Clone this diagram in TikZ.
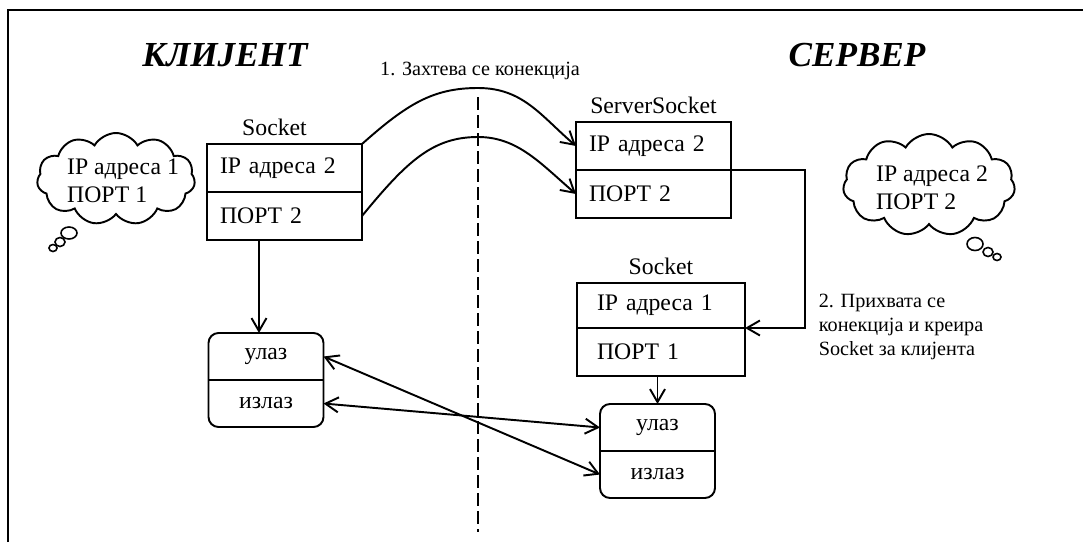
\documentclass[tikz,border=0pt]{standalone}
\usepackage{fontspec}
\setmainfont{Liberation Serif}
\usetikzlibrary{arrows.meta,positioning,calc,shapes.symbols}

\begin{document}
\begin{tikzpicture}[
  x=0.2mm, y=-0.2mm,
  line width=1.1pt,
  font=\fontsize{13.5}{16}\selectfont,
  cel/.style ={draw, outer sep=0pt, minimum height=9.6mm, text width=#1, inner xsep=2.6mm, align=left},
  iob/.style ={draw, rounded corners=2mm, outer sep=0pt, minimum width=23mm, minimum height=18.8mm},
  cld/.style ={draw, cloud, cloud puffs=11, cloud puff arc=120, cloud ignores aspect, inner sep=0pt},
  ttl/.style ={font=\fontsize{20}{24}\selectfont\bfseries\itshape},
  ann/.style ={font=\fontsize{11.5}{13.8}\selectfont, align=left},
  ar/.style  ={-{Straight Barb[length=2.6mm, width=3mm]}},
  dar/.style ={{Straight Barb[length=2.6mm, width=3mm]}-{Straight Barb[length=2.6mm, width=3mm]}},
  bub/.style ={draw, line width=0.9pt}
]
\useasboundingbox (0,0) rectangle (1083,542);
\draw (8,542) -- (8,10) -- (1083,10);

% ---------- client ----------
\node[ttl] (cttl) at (225,55) {КЛИЈЕНТ};
\node[cel=25.8mm] (csip) at (284.5,168) {IP адреса 2};
\node[cel=25.8mm, below=0pt of csip] (csport) {ПОРТ 2};
\node[above=0.3mm of csip, xshift=-2mm] (cslab) {Socket};
\node[cld, minimum width=31.6mm, minimum height=18.4mm] (ccld) at (116,179) {};
\node[align=left] (cctxt) at (123,181) {IP адреса 1\\ПОРТ 1};
\draw[bub] (69,233) ellipse [x radius=1.6mm, y radius=1.2mm];
\draw[bub] (60,242) ellipse [x radius=1mm, y radius=0.9mm];
\draw[bub] (53,248) ellipse [x radius=0.8mm, y radius=0.7mm];

\node[iob] (cio) at (266,380) {};
\draw (cio.west) -- (cio.east);
\node (cin)  at ($(cio.center)!0.5!(cio.north)$) {улаз};
\node (cout) at ($(cio.center)!0.5!(cio.south)$) {излаз};

% ---------- server ----------
\node[ttl] (sttl) at (857,55) {СЕРВЕР};
\node[cel=25.8mm] (srvip) at (653.5,146) {IP адреса 2};
\node[cel=25.8mm, below=0pt of srvip] (srvport) {ПОРТ 2};
\node[above=0.3mm of srvip] (srvlab) {ServerSocket};
\node[cld, minimum width=34.4mm, minimum height=20.4mm] (scld) at (929,185) {};
\node[align=left] (sctxt) at (932,188) {IP адреса 2\\ПОРТ 2};
\draw[bub] (975,244) ellipse [x radius=1.6mm, y radius=1.3mm];
\draw[bub] (988,252) ellipse [x radius=1mm, y radius=0.9mm];
\draw[bub] (997,257) ellipse [x radius=0.8mm, y radius=0.7mm];

\node[cel=25.6mm, inner xsep=4mm, minimum height=9mm] (ssip) at (661,305.5) {IP адреса 1};
\node[cel=25.6mm, inner xsep=4mm, below=0pt of ssip] (ssport) {ПОРТ 1};
\node[above=0.3mm of ssip] (sslab) {Socket};

\node[iob] (sio) at (657.5,451) {};
\draw (sio.west) -- (sio.east);
\node (sin)  at ($(sio.center)!0.5!(sio.north)$) {улаз};
\node (sout) at ($(sio.center)!0.5!(sio.south)$) {излаз};

% ---------- connections ----------
\coordinate (dvtop) at (478,97);
\coordinate (dvbot) at (478,532);
\draw[dash pattern=on 2.5mm off 1.1mm] (dvtop) -- (dvbot);

\node[ann] (req) at (480,71) {1. Захтева се конекција};
\coordinate (pk1) at (478,88);
\coordinate (pk2) at (478,137);
\draw[ar] (csip.north east) .. controls +(45,-40) and +(-45,0) .. (pk1)
  .. controls +(45,0) and +(-35,-30) .. (srvip.west);
\draw[ar] (csport.east) .. controls +(45,-55) and +(-45,0) .. (pk2)
  .. controls +(40,0) and +(-35,-30) .. (srvport.west);

\draw[ar] (srvip.south east) -- ++(14.8mm,0) |- (ssip.south east);
\node[ann, anchor=west] (acc) at (812,327) {2. Прихвата се\\конекција и креира\\Socket за клијента};

\coordinate (cdrop) at ([xshift=-1.4mm]cio.north);
\draw[ar] (cdrop |- csport.south) -- (cdrop);
\draw[ar] (sio.north |- ssport.south) -- (sio.north);
\draw[dar] (cin -| cio.east) -- (sout -| sio.west);
\draw[dar] (cout -| cio.east) -- (sin -| sio.west);
\end{tikzpicture}
\end{document}
